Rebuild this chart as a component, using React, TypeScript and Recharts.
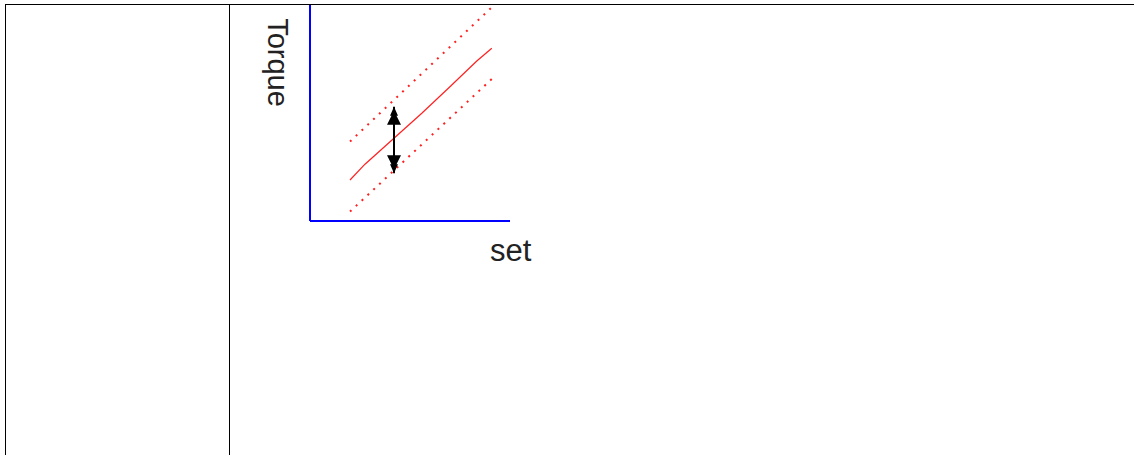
import { ComposedChart, Line, XAxis, YAxis } from "recharts";

// values (x: "set", y: "Torque")
const torqueSet = [20, 27.5, 55.9, 69.7, 83.4, 90.9];
const torqueMean = [20.5, 28.4, 53.9, 66.9, 80, 86.4];

const upperSet = [20, 90.4];
const upperBand = [39.7, 106.4];

const lowerSet = [20, 90.9];
const lowerBand = [4.7, 71];

const spreadSet = [42, 42];
const spreadTorque = [23.9, 57.1];

const xLabel = "set";
const yLabel = "Torque";

const toPoints = (xs: number[], ys: number[]) => xs.map((x, i) => ({ x, y: ys[i] }));

const meanData = toPoints(torqueSet, torqueMean);
const upperData = toPoints(upperSet, upperBand);
const lowerData = toPoints(lowerSet, lowerBand);
const spreadData = toPoints(spreadSet, spreadTorque);

const FONT = "'Liberation Sans', Arial, sans-serif";

// arrow head drawn at each end of the spread marker
const ArrowHead = (props: any) => {
  const { cx, cy, index } = props;
  if (cx == null || cy == null) return null;
  const dir = index === 0 ? 1 : -1; // lower end points down, upper end points up
  const pts = [
    [0, 0],
    [-4, 9],
    [-2.5, 9],
    [-7, 18],
    [7, 18],
    [2.5, 9],
    [4, 9],
  ]
    .map(([dx, dy]) => `${cx + dx},${cy - dir * dy}`)
    .join(" ");
  return <polygon key={`head-${index}`} points={pts} fill="#000" />;
};

const TorqueLabel = (props: any) => {
  const vb = props.viewBox || {};
  const x = vb.x + 38;
  const y = vb.y + 57.5;
  return (
    <text
      x={x}
      y={y}
      transform={`rotate(90 ${x} ${y})`}
      textAnchor="middle"
      fontFamily={FONT}
      fontSize={29}
      fill="#222"
    >
      {yLabel}
    </text>
  );
};

const SetLabel = (props: any) => {
  const vb = props.viewBox || {};
  return (
    <text x={vb.x + 180} y={vb.y + 40} textAnchor="start" fontFamily={FONT} fontSize={31} fill="#222">
      {xLabel}
    </text>
  );
};

export default function App() {
  return (
    <div style={{ position: "absolute", left: 0, top: 0, width: 1134, height: 455, background: "#fff", overflow: "hidden" }}>
      {/* table borders */}
      <div style={{ position: "absolute", left: 5, top: 4, width: 1129, height: 1, background: "#000" }} />
      <div style={{ position: "absolute", left: 5, top: 4, width: 1, height: 451, background: "#000" }} />
      <div style={{ position: "absolute", left: 229, top: 4, width: 1, height: 451, background: "#000" }} />

      <div style={{ position: "absolute", left: 230, top: 0 }}>
        <ComposedChart width={400} height={300} margin={{ top: 5, right: 120, bottom: 0, left: 0 }}>
          <XAxis
            type="number"
            dataKey="x"
            domain={[0, 100]}
            height={79}
            tick={false}
            tickLine={false}
            axisLine={{ stroke: "#0000ff", strokeWidth: 2 }}
            label={<SetLabel />}
          />
          <YAxis
            type="number"
            dataKey="y"
            domain={[0, 108]}
            width={80}
            tick={false}
            tickLine={false}
            axisLine={{ stroke: "#0000ff", strokeWidth: 2 }}
            label={<TorqueLabel />}
          />
          <Line data={upperData} dataKey="y" stroke="#ff2020" strokeWidth={2} strokeDasharray="2 6" dot={false} isAnimationActive={false} />
          <Line data={lowerData} dataKey="y" stroke="#ff2020" strokeWidth={2} strokeDasharray="2 6" dot={false} isAnimationActive={false} />
          <Line data={meanData} dataKey="y" type="linear" stroke="#ff2020" strokeWidth={1.2} dot={false} isAnimationActive={false} />
          <Line data={spreadData} dataKey="y" stroke="#000" strokeWidth={2} dot={<ArrowHead />} activeDot={false} isAnimationActive={false} />
        </ComposedChart>
      </div>
    </div>
  );
}
